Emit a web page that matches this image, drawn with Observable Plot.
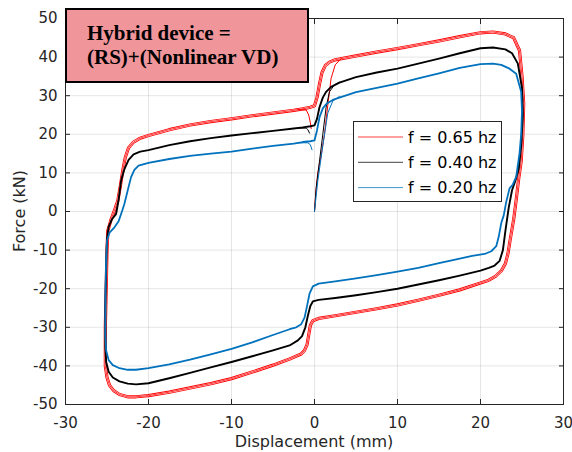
<!DOCTYPE html>
<html>
<head>
<meta charset="utf-8">
<script src="https://cdn.jsdelivr.net/npm/d3@7"></script>
<script src="https://cdn.jsdelivr.net/npm/@observablehq/plot@0.6"></script>
<style>
  html, body { margin: 0; padding: 0; background: #fff; }
  #chart { width: 572px; height: 452px; }
</style>
</head>
<body>
<div id="chart"></div>
<script>
// ---------- data (displacement mm, force kN) ----------
const seriesNames = ["f = 0.65 hz", "f = 0.40 hz", "f = 0.20 hz"];
const seriesColors = ["#ff0000", "#000000", "#0072bd"];
const xTicks = [-30, -20, -10, 0, 10, 20, 30];
const yTicks = [-50, -40, -30, -20, -10, 0, 10, 20, 30, 40, 50];
const titleLines = ["Hybrid device =", "(RS)+(Nonlinear VD)"];
const xLabel = "Displacement (mm)";
const yLabel = "Force (kN)";

// f = 0.65 hz
const redInit = [[0,0],[0.15,5],[0.4,10],[0.8,14.5],[1.2,20],[1.6,27.5],[2,34.5],[2.5,38],[3.2,39.6]];
const redLoop = [[-1.4,26.6],[-0.5,27],[0,27.4],[0.3,29.5],[0.6,33],[0.9,36],[1.3,37.8],[1.8,38.7],[2.5,39.3],
  [5,40.3],[7.5,41.3],[10,42.2],[12.5,43.2],[15,44.2],[17.5,45.3],[20,46.3],[21.5,46.5],[23,46],[24,45],[24.7,41.7],
  [25,35],[25.2,28],[25.1,20],[24.9,13],[24.6,8.5],[24.3,3],[24,-2],[23.6,-7],[23.3,-11],[23,-13.5],[22.5,-15.4],
  [21.8,-16.8],[21,-17.8],[20,-18.5],[17.5,-20.3],[15,-21.7],[12.5,-23],[10,-24.2],[7.5,-25.2],[5,-26.1],[2.5,-27],
  [0.5,-27.7],[-0.2,-28.3],[-0.5,-29.5],[-0.7,-32],[-0.9,-34.5],[-1.2,-36],[-1.6,-36.9],[-3,-38.2],[-5,-39.8],
  [-7.5,-41.6],[-10,-43.3],[-12.5,-44.6],[-15,-45.7],[-17.5,-46.8],[-20,-47.7],[-21.5,-48],[-22.5,-48],[-23.5,-47.4],
  [-24.2,-46.4],[-24.7,-45],[-25,-43],[-25.2,-40],[-25.2,-30],[-25.1,-20],[-25,-10],[-24.9,-5],[-24.5,-2],[-24.1,0.3],
  [-23.7,2.8],[-23.4,6.5],[-23.1,10.6],[-22.8,14],[-22.4,16.5],[-21.8,18],[-21,19],[-20,19.7],[-17.5,21.2],[-15,22.4],
  [-12.5,23.3],[-10,24],[-7.5,24.8],[-5,25.5],[-2.5,26.2],[-1.4,26.6]];
const redTail = [[-2,26.4],[-1,26.3],[-0.7,25],[-0.5,23],[-0.4,21.5]];

// f = 0.40 hz
const blackInit = [[0,0],[0.2,6],[0.6,13],[1,20],[1.4,27],[1.8,31],[2.4,32.8],[3,33.5]];
const blackLoop = [[-1.4,21.8],[-0.5,22.1],[0,22.3],[0.3,24],[0.6,27],[1,29.5],[1.4,31],[2,32.3],[3,33.4],
  [5,34.8],[7.5,36],[10,37],[12.5,38.3],[15,39.6],[17.5,41],[20,42.3],[21.5,42.5],[23,42],[23.8,41],[24.5,38.3],
  [25,32],[25.1,25],[24.9,17],[24.6,11],[24.2,8],[23.8,5.5],[23.4,1],[23,-5],[22.7,-10],[22.3,-12.8],[21.7,-14],
  [21,-14.6],[20,-15.3],[17.5,-16.6],[15,-17.8],[12.5,-18.9],[10,-20],[7.5,-20.9],[5,-21.7],[2.5,-22.4],[0.5,-22.9],
  [-0.2,-23.3],[-0.5,-24.5],[-0.8,-27],[-1.1,-30],[-1.5,-32.3],[-2,-33.4],[-3,-34.7],[-5,-36],[-7.5,-37.5],[-10,-39],
  [-12.5,-40.4],[-15,-41.8],[-17.5,-43.2],[-20,-44.5],[-21.5,-44.8],[-22.5,-44.6],[-23.5,-44],[-24.3,-43],[-24.8,-41.5],
  [-25.1,-39],[-25.2,-35],[-25.2,-25],[-25.1,-15],[-25,-7],[-24.8,-4],[-24.4,-2],[-23.9,-0.6],[-23.6,3],[-23.3,8],
  [-22.9,11],[-22.4,13.4],[-21.8,14.8],[-21,15.5],[-20,15.9],[-17.5,17.2],[-15,18.2],[-12.5,19],[-10,19.7],
  [-7.5,20.3],[-5,20.9],[-2.5,21.5],[-1.4,21.8]];
const blackTail = [[-2,21.6],[-1,21.6],[-0.8,21.2],[-0.6,20.3]];

// f = 0.20 hz
const blueInit = [[0,0],[0.4,8],[1,17],[1.6,25.5],[2.2,28.6],[3,29.8]];
const blueLoop = [[-1.4,18],[-0.5,18.2],[0,18.4],[0.3,21],[0.6,24.4],[1,26.7],[1.5,28],[2.2,28.9],[3,29.5],
  [5,30.9],[7.5,32],[10,33.1],[12.5,34.5],[15,35.8],[17.5,37.2],[20,38.2],[21.5,38.3],[22.5,38],[23.5,37],[24.3,35.7],
  [24.9,31],[25,26],[24.9,20],[24.7,15],[24.3,9],[23.9,7],[23.5,6],[23.1,2.5],[22.8,-1],[22.5,-3],[22.2,-6.5],
  [21.9,-9],[21.3,-10.3],[20.5,-11],[19,-11.5],[17.5,-12.2],[15,-13.4],[12.5,-14.6],[10,-15.6],[7.5,-16.5],[5,-17.3],
  [2.5,-18.1],[0.5,-18.7],[-0.2,-19.4],[-0.6,-21.3],[-0.9,-24.5],[-1.2,-27.5],[-1.6,-29.2],[-2.2,-30],[-3,-30.5],
  [-5,-32],[-7.5,-33.9],[-10,-35.6],[-12.5,-37],[-15,-38.4],[-17.5,-39.6],[-20,-40.6],[-21.5,-41],[-22.5,-41],
  [-23.5,-40.6],[-24.3,-39.8],[-24.8,-38.5],[-25.1,-36],[-25.2,-32],[-25.2,-22],[-25.1,-12],[-25,-7.5],[-24.7,-5.5],
  [-24.1,-4.1],[-23.6,-2.5],[-23.2,0],[-22.9,2],[-22.5,5.5],[-22.1,8.9],[-21.7,10.8],[-21.2,11.9],[-20,12.6],
  [-17.5,13.6],[-15,14.4],[-12.5,15],[-10,15.5],[-7.5,16.3],[-5,17],[-2.5,17.6],[-1.4,18]];
const blueTail = [[-2,17.8],[-0.8,17.8],[-0.5,17.3],[-0.3,16]];

// ---------- build tables ----------
const toRows = (pts, series, part) => pts.map(([x, y]) => ({x, y, series, part: series + "-" + part}));
const redLoopRows = toRows(redLoop, seriesNames[0], "loop");
const redExtra = [...toRows(redInit, seriesNames[0], "init"), ...toRows(redTail, seriesNames[0], "tail")];
const blackLoopRows = toRows(blackLoop, seriesNames[1], "loop");
const blackExtra = [...toRows(blackInit, seriesNames[1], "init"), ...toRows(blackTail, seriesNames[1], "tail")];
const blueLoopRows = toRows(blueLoop, seriesNames[2], "loop");
const blueExtra = [...toRows(blueInit, seriesNames[2], "init"), ...toRows(blueTail, seriesNames[2], "tail")];

const W = 572, H = 452, mL = 65, mR = 9, mT = 18, mB = 48;
const ink = "#262626";
const fmt = d => String(d);

const chart = Plot.plot({
  width: W, height: H,
  marginLeft: mL, marginRight: mR, marginTop: mT, marginBottom: mB,
  style: {fontFamily: "'DejaVu Sans', sans-serif", fontSize: "15px", color: ink, background: "#fff"},
  x: {domain: [-30, 30]},
  y: {domain: [-50, 50]},
  marks: [
    Plot.gridX(xTicks, {stroke: "#000", strokeOpacity: 0.1}),
    Plot.gridY(yTicks, {stroke: "#000", strokeOpacity: 0.1}),
    // 0.65 hz: three close cycles drawn as triple strand
    Plot.line(redLoopRows, {x: "x", y: "y", z: "part", stroke: seriesColors[0], strokeWidth: 3.2}),
    Plot.line(redLoopRows, {x: "x", y: "y", z: "part", stroke: "#fff", strokeWidth: 1.5}),
    Plot.line(redLoopRows, {x: "x", y: "y", z: "part", stroke: seriesColors[0], strokeWidth: 0.8}),
    Plot.line(redExtra, {x: "x", y: "y", z: "part", stroke: seriesColors[0], strokeWidth: 1}),
    // 0.40 hz
    Plot.line(blackLoopRows, {x: "x", y: "y", z: "part", stroke: seriesColors[1], strokeWidth: 1.9}),
    Plot.line(blackExtra, {x: "x", y: "y", z: "part", stroke: seriesColors[1], strokeWidth: 1}),
    // 0.20 hz
    Plot.line(blueLoopRows, {x: "x", y: "y", z: "part", stroke: seriesColors[2], strokeWidth: 1.8}),
    Plot.line(blueExtra, {x: "x", y: "y", z: "part", stroke: seriesColors[2], strokeWidth: 1}),
    // axes with inward ticks (box style)
    Plot.axisX({ticks: xTicks, anchor: "bottom", tickSize: -5, tickPadding: 18, tickFormat: fmt, label: null, stroke: ink, fill: ink}),
    Plot.axisX({ticks: xTicks, anchor: "top", tickSize: -5, tickFormat: () => "", label: null, stroke: ink}),
    Plot.axisY({ticks: yTicks, anchor: "left", tickSize: -5, tickPadding: 13, tickFormat: fmt, label: null, stroke: ink, fill: ink}),
    Plot.axisY({ticks: yTicks, anchor: "right", tickSize: -5, tickFormat: () => "", label: null, stroke: ink}),
    Plot.frame({stroke: ink, strokeWidth: 1})
  ]
});
document.getElementById("chart").appendChild(chart);

const svg = d3.select(chart);
const sx = chart.scale("x"), sy = chart.scale("y");
const xMid = (sx.range[0] + sx.range[1]) / 2;
const yMid = (sy.range[0] + sy.range[1]) / 2;

// axis titles
svg.append("text").attr("x", xMid).attr("y", H - 5)
  .attr("text-anchor", "middle").attr("fill", ink)
  .style("font-family", "'DejaVu Sans', sans-serif").style("font-size", "16px").text(xLabel);
svg.append("text").attr("transform", `translate(25,${yMid}) rotate(-90)`)
  .attr("text-anchor", "middle").attr("fill", ink)
  .style("font-family", "'DejaVu Sans', sans-serif").style("font-size", "16px").text(yLabel);

// annotation box
const ann = svg.append("g");
ann.append("rect").attr("x", mL + 1).attr("y", 9).attr("width", 242).attr("height", 73)
  .attr("fill", "#f0969b").attr("stroke", "#000").attr("stroke-width", 2);
titleLines.forEach((t, i) => {
  ann.append("text").attr("x", mL + 22).attr("y", 40 + i * 24)
    .attr("text-anchor", "start").attr("fill", "#000")
    .style("font-family", "'Liberation Serif', 'Times New Roman', serif")
    .style("font-weight", "bold").style("font-size", "21px").text(t);
});

// legend
const lg = svg.append("g");
const lx = 353.5, ly = 121.5, lw = 148, lh = 80;
lg.append("rect").attr("x", lx).attr("y", ly).attr("width", lw).attr("height", lh)
  .attr("fill", "#fff").attr("stroke", ink).attr("stroke-width", 1);
seriesNames.forEach((name, i) => {
  const yy = ly + 15.5 + i * 25.3;
  lg.append("line").attr("x1", lx + 4.5).attr("x2", lx + 49.5).attr("y1", yy).attr("y2", yy)
    .attr("stroke", seriesColors[i]).attr("stroke-width", 1).attr("stroke-opacity", 0.75);
  lg.append("text").attr("x", lx + 54.5).attr("y", yy).attr("dy", "0.36em")
    .attr("text-anchor", "start").attr("fill", "#000")
    .style("font-family", "'DejaVu Sans', sans-serif").style("font-size", "16px").text(name);
});
</script>
</body>
</html>
